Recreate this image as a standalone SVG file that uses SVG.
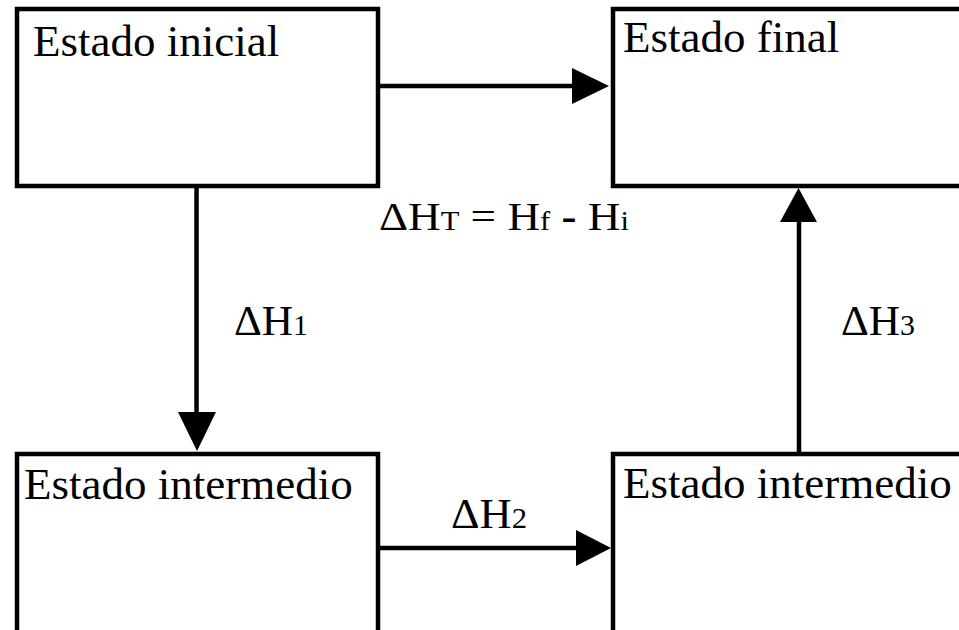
<svg xmlns="http://www.w3.org/2000/svg" width="959" height="630" viewBox="0 0 959 630">
<style>
.box{fill:#fff;stroke:#000;stroke-width:4.5}
.t{font-family:"Liberation Serif","Times New Roman",serif;font-size:45px;fill:#000}
.l{font-family:"Liberation Serif","Times New Roman",serif;fill:#000}
.ln{stroke:#000;stroke-width:4.5;fill:none}
.hd{fill:#000}
</style>
<rect width="959" height="630" fill="#fff"/>
<g id="n_inicial">
<rect class="box" x="17" y="9" width="361" height="177"/>
<text class="t" x="33" y="56">Estado inicial</text>
</g>
<g id="n_final">
<rect class="box" x="613" y="9" width="380" height="177"/>
<text class="t" x="623" y="52">Estado final</text>
</g>
<g id="n_inter1">
<rect class="box" x="17" y="454" width="361" height="220"/>
<text class="t" x="24" y="499">Estado intermedio</text>
</g>
<g id="n_inter2">
<rect class="box" x="613" y="454" width="380" height="220"/>
<text class="t" x="623" y="498">Estado intermedio</text>
</g>
<g id="connectors">
<line class="ln" x1="380" y1="86" x2="574" y2="86"/>
<polygon class="hd" points="572,68 609,86 572,104"/>
<line class="ln" x1="196.5" y1="188" x2="196.5" y2="414"/>
<polygon class="hd" points="178,412 216,412 197,451"/>
<line class="ln" x1="380" y1="548" x2="578" y2="548"/>
<polygon class="hd" points="576,530 611,548 576,566"/>
<line class="ln" x1="799" y1="452" x2="799" y2="220"/>
<polygon class="hd" points="780,222 817,222 798.5,188"/>
</g>
<g id="labels">
<text class="l" x="379" y="230" font-size="40" textLength="250" lengthAdjust="spacingAndGlyphs">ΔH<tspan font-size="27">T</tspan> = H<tspan font-size="27">f</tspan> <tspan font-weight="bold">-</tspan> H<tspan font-size="27">i</tspan></text>
<text class="l" x="234" y="335" font-size="42" textLength="74" lengthAdjust="spacingAndGlyphs">ΔH<tspan font-size="29">1</tspan></text>
<text class="l" x="451" y="528" font-size="42" textLength="76" lengthAdjust="spacingAndGlyphs">ΔH<tspan font-size="29">2</tspan></text>
<text class="l" x="841" y="335" font-size="42" textLength="74" lengthAdjust="spacingAndGlyphs">ΔH<tspan font-size="29">3</tspan></text>
</g>
</svg>
